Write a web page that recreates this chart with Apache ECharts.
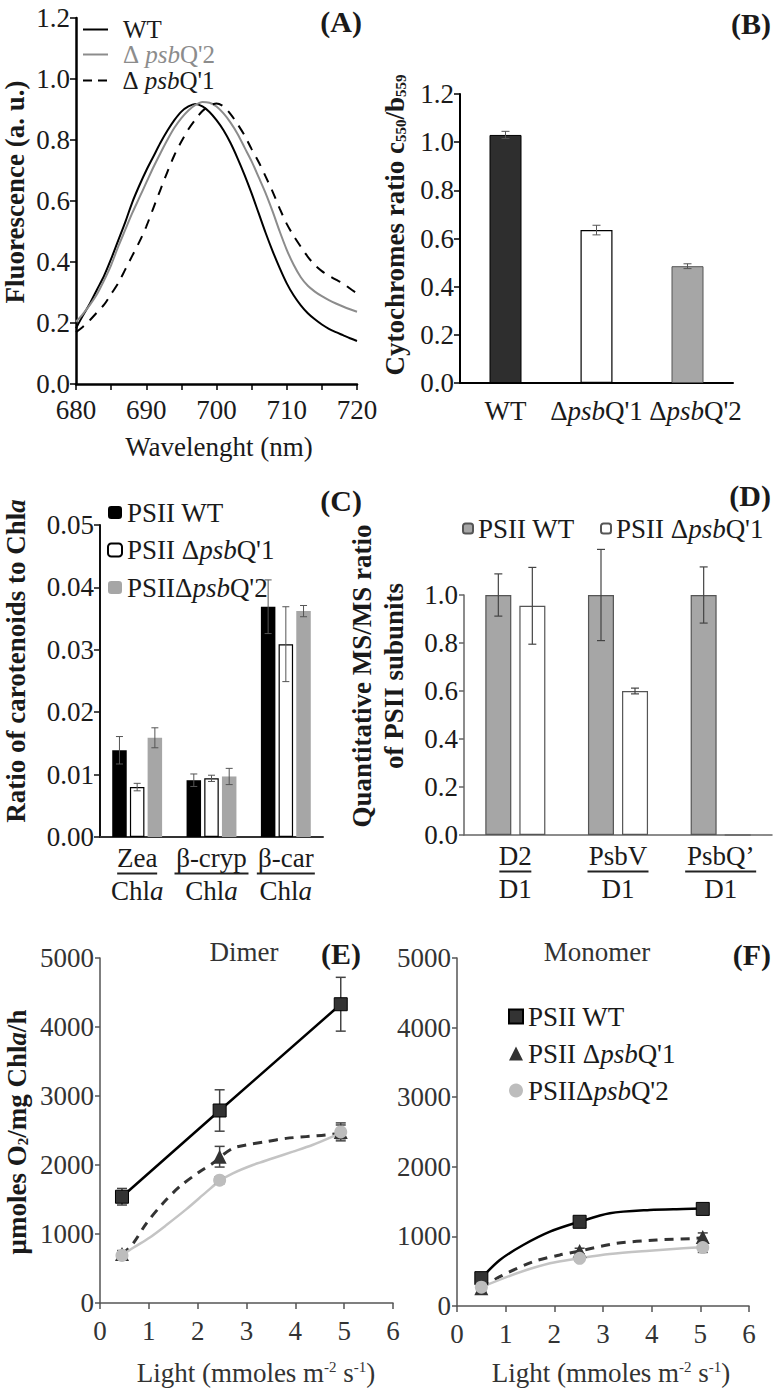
<!DOCTYPE html>
<html><head><meta charset="utf-8">
<script src="https://cdn.jsdelivr.net/npm/echarts@6/dist/echarts.min.js"></script>
<style>html,body{margin:0;padding:0;background:#fff}#c{width:774px;height:1391px}</style>
</head><body><div id="c"></div>
<script>
// ---------- DATA ----------
// (A) fluorescence spectra
const aWavelength = [680,681,682,683,684,685,686,687,688,689,690,691,692,693,694,695,696,697,698,699,700,701,702,703,704,705,706,707,708,709,710,711,712,713,714,715,716,717,718,719,720];
const aWT = [0.183,0.225,0.265,0.31,0.355,0.41,0.47,0.53,0.595,0.65,0.70,0.745,0.79,0.83,0.865,0.893,0.91,0.918,0.91,0.892,0.865,0.832,0.79,0.74,0.685,0.625,0.56,0.495,0.435,0.38,0.33,0.29,0.258,0.232,0.212,0.195,0.181,0.17,0.16,0.15,0.141];
const aQ2 = [0.204,0.23,0.26,0.295,0.34,0.39,0.45,0.505,0.56,0.61,0.66,0.71,0.756,0.80,0.84,0.872,0.897,0.915,0.925,0.922,0.91,0.887,0.857,0.82,0.775,0.73,0.678,0.625,0.565,0.50,0.44,0.39,0.35,0.322,0.303,0.288,0.275,0.264,0.254,0.245,0.237];
const aQ1 = [0.17,0.188,0.21,0.235,0.26,0.295,0.33,0.375,0.42,0.465,0.516,0.576,0.636,0.695,0.75,0.795,0.835,0.867,0.895,0.912,0.92,0.91,0.885,0.852,0.815,0.77,0.728,0.68,0.63,0.575,0.525,0.485,0.45,0.417,0.39,0.37,0.355,0.342,0.33,0.313,0.297];
const aTicksX = [680,690,700,710,720];

// (B) cytochromes ratio
const bCats = ['WT', "ΔpsbQ'1", "ΔpsbQ'2"];
const bVals = [1.03, 0.635, 0.485];
const bErr = [0.015, 0.02, 0.01];

// (C) carotenoids / Chl a
const cCats = ['Zea', 'β-cryp', 'β-car'];
const cWT = [0.0139, 0.0091, 0.0369];
const cQ1 = [0.0080, 0.0094, 0.0309];
const cQ2 = [0.0159, 0.0097, 0.0362];
const cWTerr = [0.0022, 0.0010, 0.0043];
const cQ1err = [0.0006, 0.0005, 0.0060];
const cQ2err = [0.0016, 0.0013, 0.0009];

// (D) MS/MS ratio
const dCats = ['D2', 'PsbV', 'PsbQ’'];
const dWT = [1.0, 1.0, 1.0];
const dQ1 = [0.955, 0.60, 0];
const dWTerr = [0.088, 0.19, 0.117];
const dQ1err = [0.16, 0.012, 0];

// (E) Dimer
const eX = [0.45, 2.45, 4.93];
const eWT = [1540, 2790, 4330];
const eWTerr = [120, 300, 390];
const eQ1 = [710, 2120, 2480];
const eQ1err = [50, 150, 130];
const eQ2 = [690, 1780, 2480];
const eQ2err = [40, 50, 100];
const eQ1fitX = [0.45,0.68,0.95,1.29,1.63,2.04,2.31,2.45,2.72,2.99,3.4,3.81,4.63,4.93];
const eQ1fitY = [700,865,1155,1445,1686,1903,2024,2110,2242,2290,2338,2386,2435,2465];
const eQ2fitX = [0.45,0.68,1.02,1.36,1.77,2.18,2.45,2.72,3.13,3.54,3.95,4.35,4.76,4.93];
const eQ2fitY = [690,800,950,1130,1360,1610,1770,1879,2000,2097,2193,2290,2411,2470];

// (F) Monomer
const fX = [0.5, 2.52, 5.05];
const fWT = [400, 1210, 1395];
const fWTerr = [40, 30, 30];
const fQ1 = [255, 790, 990];
const fQ1err = [40, 40, 60];
const fQ2 = [270, 685, 840];
const fQ2err = [30, 40, 70];
const fWTfitX = [0.5,0.88,1.36,1.91,2.52,3.14,3.96,4.65,5.05];
const fWTfitY = [400,661,876,1068,1211,1332,1379,1393,1400];
const fQ1fitX = [0.5,0.88,1.57,2.11,2.52,3.28,4.1,4.92,5.05];
const fQ1fitY = [255,421,637,733,790,900,948,972,990];
const fQ2fitX = [0.5,1.23,1.91,2.52,3.14,3.96,4.65,5.05];
const fQ2fitY = [270,470,613,685,747,795,829,845];

// ---------- STYLE ----------
const FONT = 'Liberation Serif';
const INK = '#1a1a1a';
const GRAYINK = '#333';
const FS = 27;

const pairs = (xs, ys) => xs.map((x, i) => [x, ys[i]]);
const triples = (xs, ys, es) => xs.map((x, i) => [x, ys[i], es[i]]);

function errSeries(idx, data, cap, color, width, offset, z) {
  return {
    type: 'custom', xAxisIndex: idx, yAxisIndex: idx, clip: false, silent: true, z: z || 5,
    data: data,
    renderItem: function (params, api) {
      const x = api.value(0), y = api.value(1), e = api.value(2);
      if (!e) return null;
      const p1 = api.coord([x, y + e]), p2 = api.coord([x, y - e]);
      const cx = p1[0] + offset;
      const st = { stroke: color, lineWidth: width };
      return { type: 'group', children: [
        { type: 'line', shape: { x1: cx, y1: p1[1], x2: cx, y2: p2[1] }, style: st },
        { type: 'line', shape: { x1: cx - cap, y1: p1[1], x2: cx + cap, y2: p1[1] }, style: st },
        { type: 'line', shape: { x1: cx - cap, y1: p2[1], x2: cx + cap, y2: p2[1] }, style: st }
      ]};
    }
  };
}

function valueAxis(grid, min, max, interval, color, width, labelColor, fmt, margin, tickLen) {
  return {
    gridIndex: grid, type: 'value', min: min, max: max, interval: interval,
    axisLine: { show: true, onZero: false, lineStyle: { color: color, width: width } },
    axisTick: { show: true, inside: false, length: tickLen || 6, lineStyle: { color: color, width: Math.min(width, 1.5) } },
    axisLabel: { fontFamily: FONT, fontSize: FS, color: labelColor, margin: margin, formatter: fmt, showMinLabel: true, showMaxLabel: true },
    splitLine: { show: false }
  };
}

const RICH = {
  n: { fontFamily: FONT, fontSize: FS },
  i: { fontFamily: FONT, fontSize: FS, fontStyle: 'italic' }
};
const RICH_A = {
  n: { fontFamily: FONT, fontSize: 25 },
  i: { fontFamily: FONT, fontSize: 25, fontStyle: 'italic' }
};

const LBL = {
  A_WT: 'WT',
  A_Q2: "Δ {i|psb}Q'2",
  A_Q1: "Δ {i|psb}Q'1",
  C_WT: 'PSII WT',
  C_Q1: "PSII Δ{i|psb}Q'1",
  C_Q2: "PSIIΔ{i|psb}Q'2",
  D_WT: 'PSII WT',
  D_Q1: "PSII Δ{i|psb}Q'1",
  F_WT: 'PSII WT',
  F_Q1: "PSII Δ{i|psb}Q'1",
  F_Q2: "PSIIΔ{i|psb}Q'2"
};

function legendCfg(data, left, top, extra) {
  return Object.assign({
    left: left, top: top, orient: 'vertical', padding: 0, selectedMode: false,
    data: data, formatter: n => LBL[n],
    textStyle: { fontFamily: FONT, fontSize: FS, color: INK, lineHeight: 27, rich: RICH }
  }, extra || {});
}

const catRich = function (widths) {
  const r = {
    t: { fontFamily: FONT, fontSize: FS, color: INK, lineHeight: 26 },
    b: { fontFamily: FONT, fontSize: FS, color: INK, lineHeight: 30 },
    bi: { fontFamily: FONT, fontSize: FS, color: INK, lineHeight: 30, fontStyle: 'italic' }
  };
  widths.forEach((w, i) => { r['u' + i] = { width: w, height: 2, lineHeight: 5, fontSize: 2, backgroundColor: '#222' }; });
  return r;
};

const SOLID_ICON = 'path://M0,0H25V2H0Z';
const DASH_ICON = 'path://M0,0H9V2H0Z M15,0H24V2H15Z';
const aLegendText = (color) => ({ fontFamily: FONT, fontSize: 25, color: color, lineHeight: 24, rich: RICH_A, padding: [0, 0, 0, 10] });

const option = {
  animation: false,
  backgroundColor: '#fff',
  textStyle: { fontFamily: FONT },
  grid: [
    { left: 76, top: 18, width: 281, height: 366 },
    { left: 460, top: 94, width: 273, height: 289 },
    { left: 100, top: 525, width: 223, height: 312 },
    { left: 464, top: 595, width: 308, height: 240 },
    { left: 100, top: 958, width: 293, height: 345 },
    { left: 457, top: 958, width: 292, height: 348 }
  ],
  xAxis: [
    valueAxis(0, 680, 720, 5, '#000', 2.5, INK, v => (aTicksX.indexOf(v) >= 0 ? String(v) : ''), 12, 6),
    { gridIndex: 1, type: 'category',
      data: bCats.map((c, i) => i === 2 ? { value: c, textStyle: { padding: [0, 0, 0, 16] } } : c),
      axisLine: { show: true, lineStyle: { color: '#000', width: 2 } }, axisTick: { show: false },
      axisLabel: { margin: 14, fontFamily: FONT, fontSize: FS, color: INK, interval: 0,
        formatter: v => v.replace('psb', '{i|psb}'), rich: RICH } },
    { gridIndex: 2, type: 'category', data: cCats,
      axisLine: { show: true, lineStyle: { color: '#333', width: 2 } }, axisTick: { show: false },
      axisLabel: { margin: 8, interval: 0, fontFamily: FONT, fontSize: FS, color: INK,
        formatter: (v, i) => '{t|' + v + '}\n{u' + i + '|\u00a0}\n{b|Chl}{bi|a}', rich: catRich([40, 74, 58]) } },
    { gridIndex: 3, type: 'category', data: dCats,
      axisLine: { show: true, lineStyle: { color: '#666', width: 1.5 } }, axisTick: { show: false },
      axisLabel: { margin: 8, interval: 0, fontFamily: FONT, fontSize: FS, color: INK,
        formatter: (v, i) => '{t|' + v + '}\n{u' + i + '|\u00a0}\n{b|D1}', rich: catRich([32, 61, 71]) } },
    valueAxis(4, 0, 6, 1, '#555', 1.5, GRAYINK, v => String(v), 14, 6),
    valueAxis(5, 0, 6, 1, '#555', 1.5, GRAYINK, v => String(v), 14, 6)
  ],
  yAxis: [
    valueAxis(0, 0, 1.2, 0.2, '#000', 2.5, INK, v => v.toFixed(1), 6, 6),
    valueAxis(1, 0, 1.2, 0.2, '#000', 2, INK, v => v.toFixed(1), 6, 6),
    valueAxis(2, 0, 0.05, 0.01, '#111', 2, INK, v => v.toFixed(2), 6, 6),
    valueAxis(3, 0, 1.0, 0.2, '#666', 1.5, INK, v => v.toFixed(1), 6, 5),
    valueAxis(4, 0, 5000, 1000, '#555', 1.5, GRAYINK, v => String(v), 6, 5),
    valueAxis(5, 0, 5000, 1000, '#555', 1.5, GRAYINK, v => String(v), 6, 5)
  ],
  legend: [
    legendCfg([{ name: 'A_WT', icon: SOLID_ICON }], 83, 17, { itemWidth: 25, itemHeight: 2, textStyle: aLegendText(INK) }),
    legendCfg([{ name: 'A_Q2', icon: SOLID_ICON }], 83, 42, { itemWidth: 25, itemHeight: 2, textStyle: aLegendText('#8c8c8c') }),
    legendCfg([{ name: 'A_Q1', icon: DASH_ICON }], 83, 68, { itemWidth: 25, itemHeight: 2, textStyle: aLegendText(INK) }),
    legendCfg(['C_WT', 'C_Q1', 'C_Q2'], 107, 499, { itemWidth: 14, itemHeight: 13, itemGap: 10.5 }),
    legendCfg(['D_WT'], 462, 515, { itemWidth: 10, itemHeight: 10 }),
    legendCfg(['D_Q1'], 600, 515, { itemWidth: 10, itemHeight: 10 }),
    legendCfg([{ name: 'F_WT', icon: 'rect' }, { name: 'F_Q1', icon: 'triangle' }, { name: 'F_Q2', icon: 'circle' }], 508, 1003, { itemWidth: 14, itemHeight: 14, itemGap: 10 })
  ],
  series: [
    // (A)
    { type: 'line', name: 'A_WT', xAxisIndex: 0, yAxisIndex: 0, data: pairs(aWavelength, aWT), symbol: 'none', smooth: 0.3,
      lineStyle: { color: '#000', width: 2 }, itemStyle: { color: '#000' } },
    { type: 'line', name: 'A_Q2', xAxisIndex: 0, yAxisIndex: 0, data: pairs(aWavelength, aQ2), symbol: 'none', smooth: 0.3,
      lineStyle: { color: '#8c8c8c', width: 2 }, itemStyle: { color: '#8c8c8c' } },
    { type: 'line', name: 'A_Q1', xAxisIndex: 0, yAxisIndex: 0, data: pairs(aWavelength, aQ1), symbol: 'none', smooth: 0.3,
      lineStyle: { color: '#000', width: 2, type: [10, 8] }, itemStyle: { color: '#000' } },
    // (B)
    { type: 'bar', name: 'B', xAxisIndex: 1, yAxisIndex: 1, barWidth: 32,
      data: bVals.map((v, i) => ({ value: v, itemStyle: [
        { color: '#2e2e2e', borderColor: '#000', borderWidth: 1 },
        { color: '#fff', borderColor: '#000', borderWidth: 1.2 },
        { color: '#a6a6a6', borderColor: '#555', borderWidth: 1 }][i] })) },
    errSeries(1, bVals.map((v, i) => [i, v, bErr[i]]), 4, '#555', 1, 0),
    // (C)
    { type: 'bar', name: 'C_WT', xAxisIndex: 2, yAxisIndex: 2, data: cWT, barWidth: 14.5, barGap: '22%', itemStyle: { color: '#000' } },
    { type: 'bar', name: 'C_Q1', xAxisIndex: 2, yAxisIndex: 2, data: cQ1, barWidth: 14.5, barGap: '22%', itemStyle: { color: '#fff', borderColor: '#000', borderWidth: 1.2 } },
    { type: 'bar', name: 'C_Q2', xAxisIndex: 2, yAxisIndex: 2, data: cQ2, barWidth: 14.5, barGap: '22%', itemStyle: { color: '#a6a6a6' } },
    errSeries(2, cWT.map((v, i) => [i, v, cWTerr[i]]), 3.5, '#555', 1, -17.7),
    errSeries(2, cQ1.map((v, i) => [i, v, cQ1err[i]]), 3.5, '#555', 1, 0),
    errSeries(2, cQ2.map((v, i) => [i, v, cQ2err[i]]), 3.5, '#555', 1, 17.7),
    // (D)
    { type: 'bar', name: 'D_WT', xAxisIndex: 3, yAxisIndex: 3, data: dWT, barWidth: 26, barGap: '31%', itemStyle: { color: '#a6a6a6', borderColor: '#555', borderWidth: 1.2 } },
    { type: 'bar', name: 'D_Q1', xAxisIndex: 3, yAxisIndex: 3, data: dQ1, barWidth: 26, barGap: '31%', itemStyle: { color: '#fff', borderColor: '#555', borderWidth: 1.2 } },
    errSeries(3, dWT.map((v, i) => [i, v, dWTerr[i]]), 4, '#444', 1.2, -17),
    errSeries(3, dQ1.map((v, i) => [i, v, dQ1err[i]]), 4, '#444', 1.2, 17),
    // (E)
    { type: 'line', name: 'E_WTline', xAxisIndex: 4, yAxisIndex: 4, data: pairs(eX, eWT), symbol: 'none', lineStyle: { color: '#000', width: 2.5 }, z: 2 },
    { type: 'line', name: 'E_Q1line', xAxisIndex: 4, yAxisIndex: 4, data: pairs(eQ1fitX, eQ1fitY), symbol: 'none', smooth: 0.3, lineStyle: { color: '#333', width: 3, type: [9, 7] }, z: 2 },
    { type: 'line', name: 'E_Q2line', xAxisIndex: 4, yAxisIndex: 4, data: pairs(eQ2fitX, eQ2fitY), symbol: 'none', smooth: 0.3, lineStyle: { color: '#c4c4c4', width: 2.5 }, z: 2 },
    errSeries(4, triples(eX, eWT, eWTerr), 5, '#444', 1.5, 0, 3),
    errSeries(4, triples(eX, eQ1, eQ1err), 5, '#444', 1.5, 0, 3),
    errSeries(4, triples(eX, eQ2, eQ2err), 5, '#444', 1.5, 0, 3),
    { type: 'scatter', name: 'E_WT', xAxisIndex: 4, yAxisIndex: 4, data: pairs(eX, eWT), symbol: 'rect', symbolSize: 13, itemStyle: { color: '#333', borderColor: '#000', borderWidth: 1, opacity: 1 }, z: 6 },
    { type: 'scatter', name: 'E_Q1', xAxisIndex: 4, yAxisIndex: 4, data: pairs(eX, eQ1), symbol: 'triangle', symbolSize: 14, itemStyle: { color: '#333', opacity: 1 }, z: 6 },
    { type: 'scatter', name: 'E_Q2', xAxisIndex: 4, yAxisIndex: 4, data: pairs(eX, eQ2), symbol: 'circle', symbolSize: 13, itemStyle: { color: '#bdbdbd', opacity: 1 }, z: 7 },
    // (F)
    { type: 'line', name: 'F_WTline', xAxisIndex: 5, yAxisIndex: 5, data: pairs(fWTfitX, fWTfitY), symbol: 'none', smooth: 0.3, lineStyle: { color: '#000', width: 2.5 }, z: 2 },
    { type: 'line', name: 'F_Q1line', xAxisIndex: 5, yAxisIndex: 5, data: pairs(fQ1fitX, fQ1fitY), symbol: 'none', smooth: 0.3, lineStyle: { color: '#333', width: 3, type: [9, 7] }, z: 2 },
    { type: 'line', name: 'F_Q2line', xAxisIndex: 5, yAxisIndex: 5, data: pairs(fQ2fitX, fQ2fitY), symbol: 'none', smooth: 0.3, lineStyle: { color: '#c4c4c4', width: 2.5 }, z: 2 },
    errSeries(5, triples(fX, fWT, fWTerr), 5, '#444', 1.5, 0, 3),
    errSeries(5, triples(fX, fQ1, fQ1err), 5, '#444', 1.5, 0, 3),
    errSeries(5, triples(fX, fQ2, fQ2err), 5, '#444', 1.5, 0, 3),
    { type: 'scatter', name: 'F_WT', xAxisIndex: 5, yAxisIndex: 5, data: pairs(fX, fWT), symbol: 'rect', symbolSize: 13, itemStyle: { color: '#333', borderColor: '#000', borderWidth: 1, opacity: 1 }, z: 6 },
    { type: 'scatter', name: 'F_Q1', xAxisIndex: 5, yAxisIndex: 5, data: pairs(fX, fQ1), symbol: 'triangle', symbolSize: 14, itemStyle: { color: '#333', opacity: 1 }, z: 6 },
    { type: 'scatter', name: 'F_Q2', xAxisIndex: 5, yAxisIndex: 5, data: pairs(fX, fQ2), symbol: 'circle', symbolSize: 13, itemStyle: { color: '#bdbdbd', opacity: 1 }, z: 7 }
  ],
  graphic: { elements: [] }
};

// ---------- TEXT (titles, panel labels) ----------
const titleRich = {
  sub: { fontFamily: FONT, fontSize: 15, fontWeight: 'bold', fill: INK, verticalAlign: 'bottom', lineHeight: 22 },
  bi: { fontFamily: FONT, fontSize: FS, fontWeight: 'bold', fontStyle: 'italic', fill: INK },
  sup: { fontFamily: FONT, fontSize: 15, fill: GRAYINK, verticalAlign: 'top', lineHeight: 15 }
};
function txt(x, y, text, o) {
  o = o || {};
  return {
    type: 'text', x: x, y: y, rotation: o.rot || 0, silent: true, z: 100,
    style: {
      text: text, fontFamily: FONT, fontSize: o.size || FS, fontWeight: o.bold ? 'bold' : 'normal',
      fill: o.color || INK, align: o.align || 'center', verticalAlign: 'middle', rich: titleRich
    }
  };
}
const R = Math.PI / 2;
option.graphic.elements.push(
  txt(15, 192, 'Fluorescence (a. u.)', { bold: true, rot: R }),
  txt(219, 447, 'Wavelenght (nm)'),
  txt(395, 225, 'Cytochromes ratio c{sub|550}/b{sub|559}', { bold: true, rot: R }),
  txt(16, 661, 'Ratio of carotenoids to Chl{bi|a}', { bold: true, rot: R }),
  txt(362, 676, 'Quantitative MS/MS ratio', { bold: true, rot: R }),
  txt(394, 676, 'of PSII subunits', { bold: true, rot: R }),
  txt(17, 1132, 'μmoles O{sub|2}/mg Chl{bi|a}/h', { bold: true, rot: R }),
  txt(256, 1373, 'Light (mmoles m{sup|-2} s{sup|-1})', { color: GRAYINK }),
  txt(611, 1373, 'Light (mmoles m{sup|-2} s{sup|-1})', { color: GRAYINK }),
  txt(244, 952, 'Dimer', { color: GRAYINK }),
  txt(597, 952, 'Monomer', { color: GRAYINK }),
  txt(362, 21, '(A)', { bold: true, size: 30, align: 'right' }),
  txt(771, 23, '(B)', { bold: true, size: 30, align: 'right' }),
  txt(362, 500, '(C)', { bold: true, size: 30, align: 'right' }),
  txt(771, 495, '(D)', { bold: true, size: 30, align: 'right' }),
  txt(361, 953, '(E)', { bold: true, size: 30, align: 'right' }),
  txt(771, 954, '(F)', { bold: true, size: 30, align: 'right' })
);

const chart = echarts.init(document.getElementById('c'), null, { renderer: 'svg', width: 774, height: 1391 });
chart.setOption(option);
</script>
</body></html>
